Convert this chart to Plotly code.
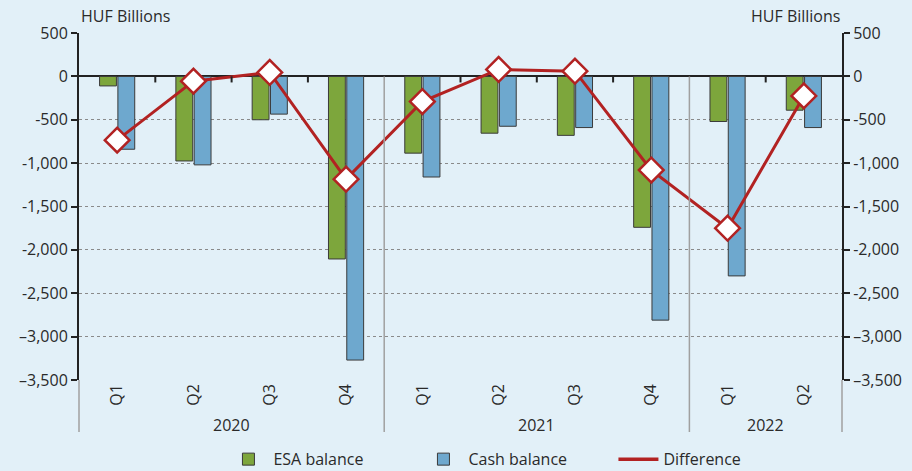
import plotly.graph_objects as go

years = ["2020", "2020", "2020", "2020", "2021", "2021", "2021", "2021", "2022", "2022"]
quarters = ["Q1", "Q2", "Q3", "Q4", "Q1", "Q2", "Q3", "Q4", "Q1", "Q2"]
esa_balance = [-110, -975, -500, -2105, -885, -655, -680, -1740, -520, -390]
cash_balance = [-840, -1020, -435, -3270, -1160, -575, -590, -2810, -2300, -590]
difference = [-735, -55, 45, -1185, -290, 80, 60, -1080, -1750, -225]
y_ticks = [500, 0, -500, -1000, -1500, -2000, -2500, -3000, -3500]
y_ticktext = ["500", "0", "-500", "-1,000", "-1,500", "-2,000", "-2,500", "–3,000", "–3,500"]

FONT = "Open Sans"
FS = 16
TXT = "#2a2a2a"
BG = "#e2f0f8"
RED = "#b22222"
n = len(quarters)
xs = list(range(n))
ymin, ymax = min(y_ticks), max(y_ticks)
zero_frac = (0 - ymin) / (ymax - ymin)

fig = go.Figure()
fig.add_trace(go.Bar(x=xs, y=esa_balance, name="ESA balance",
                     marker=dict(color="#7da63c", line=dict(color="#3a3a3a", width=1))))
fig.add_trace(go.Bar(x=xs, y=cash_balance, name="Cash balance",
                     marker=dict(color="#6ea8ce", line=dict(color="#3a3a3a", width=1))))
fig.add_trace(go.Scatter(x=xs, y=difference, name="Difference", mode="lines+markers",
                         showlegend=False,
                         line=dict(color=RED, width=3),
                         marker=dict(symbol="diamond", size=19, color="white",
                                     line=dict(color=RED, width=2.5))))
fig.add_trace(go.Scatter(x=[None], y=[None], name="Difference", mode="lines",
                         line=dict(color=RED, width=3.5)))
fig.add_trace(go.Scatter(x=[xs[0]], y=[0], yaxis="y2", showlegend=False,
                         mode="markers", marker=dict(opacity=0), hoverinfo="skip"))

shapes = []
boundaries_year = [i - 0.5 for i in range(1, n) if years[i] != years[i - 1]]
for b in boundaries_year:
    shapes.append(dict(type="line", xref="x", yref="paper", x0=b, x1=b,
                       y0=zero_frac, y1=-0.15, line=dict(color="#a0a0a0", width=1.5)))
for xp in [0, 1]:
    shapes.append(dict(type="line", xref="paper", yref="paper", x0=xp, x1=xp,
                       y0=0, y1=-0.15, line=dict(color="#a0a0a0", width=1.5)))
tick_bounds = [i - 0.5 for i in range(1, n) if years[i] == years[i - 1]]
for b in tick_bounds:
    shapes.append(dict(type="line", xref="x", yref="y", x0=b, x1=b,
                       y0=0, y1=-70, line=dict(color="#222222", width=2)))

annotations = []
for yr in sorted(set(years)):
    idx = [i for i, y in enumerate(years) if y == yr]
    annotations.append(dict(x=sum(idx) / len(idx), y=-0.13, xref="x", yref="paper",
                            text=yr, showarrow=False, yanchor="middle",
                            font=dict(family=FONT, size=FS, color=TXT)))
annotations.append(dict(x=0, y=1, xref="paper", yref="paper", text="HUF Billions",
                        showarrow=False, xanchor="left", yanchor="bottom", yshift=4,
                        font=dict(family=FONT, size=FS, color=TXT)))
annotations.append(dict(x=1, y=1, xref="paper", yref="paper", text="HUF Billions",
                        showarrow=False, xanchor="right", yanchor="bottom", yshift=4,
                        font=dict(family=FONT, size=FS, color=TXT)))

yaxis_common = dict(range=[ymin, ymax], tickvals=y_ticks, ticktext=y_ticktext,
                    showline=True, linecolor="#222222", linewidth=2, automargin=False,
                    ticks="outside", ticklen=6, tickwidth=2, tickcolor="#222222",
                    tickfont=dict(family=FONT, size=FS, color=TXT))

fig.update_layout(
    width=912, height=471,
    margin=dict(l=79, r=70, t=33, b=91),
    paper_bgcolor=BG, plot_bgcolor=BG,
    barmode="group", bargap=0.52, bargroupgap=0.08,
    xaxis=dict(range=[-0.5, n - 0.5], tickvals=xs, ticktext=quarters, tickangle=-90,
               showgrid=False, zeroline=False, showline=False, ticks="", automargin=False,
               tickfont=dict(family=FONT, size=FS, color=TXT)),
    yaxis=dict(**yaxis_common, showgrid=True, gridcolor="#8a8a8a", griddash="dot",
               gridwidth=1, zeroline=True, zerolinecolor="#222222", zerolinewidth=2),
    yaxis2=dict(**yaxis_common, overlaying="y", side="right", showgrid=False,
                zeroline=False),
    shapes=shapes, annotations=annotations,
    legend=dict(orientation="h", x=0.245, xanchor="left", xref="container",
                y=0.025, yanchor="middle", yref="container",
                entrywidth=140, itemwidth=40,
                font=dict(family=FONT, size=FS, color=TXT),
                bgcolor="rgba(0,0,0,0)"),
    showlegend=True,
)
fig.write_html("out.html", config={"displayModeBar": False},
               post_script="document.body.style.margin='0px';document.body.style.background='%s';" % BG)
